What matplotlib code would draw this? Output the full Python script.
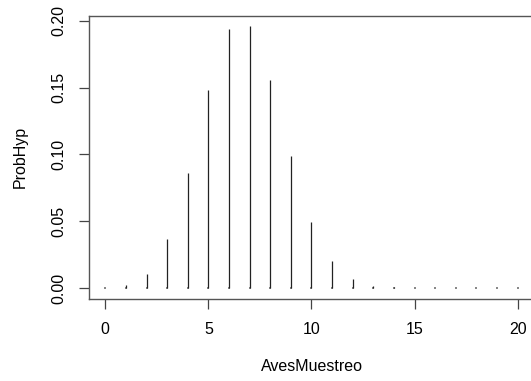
import matplotlib
matplotlib.use("Agg")
import matplotlib.pyplot as plt
import numpy as np

# valores (distribucion hipergeometrica)
aves_muestreo = np.arange(0, 21)
prob_hyp = [0.0003, 0.0022, 0.0107, 0.0366, 0.0860, 0.1480, 0.1936, 0.1960,
            0.1557, 0.0984, 0.0496, 0.0202, 0.0067, 0.0018, 0.0004, 0.0001,
            0.00002, 0.00001, 0.0, 0.0, 0.0]
x_ticks = [0, 5, 10, 15, 20]
y_ticks = [0.00, 0.05, 0.10, 0.15, 0.20]

plt.rcParams['font.family'] = ['Liberation Sans', 'DejaVu Sans']

fig = plt.figure(figsize=(5.31, 3.81), dpi=100)
ax = fig.add_axes([88.8 / 531, (381 - 298.5) / 381, 445.4 / 531, 282.9 / 381])

# tipo "h": barras verticales
ax.vlines(aves_muestreo, 0, prob_hyp, colors='#222222', linewidth=0.9)
# los valores casi nulos se ven como un punto en la base
ax.scatter(aves_muestreo, np.zeros(len(aves_muestreo)), s=0.6, marker='s',
           color='#888888', linewidths=0)

ax.set_xlim(-0.8, 20.8)
ax.set_ylim(-0.00784, 0.2038)
ax.set_xticks(x_ticks)
ax.set_xticklabels([str(v) for v in x_ticks])
ax.set_yticks(y_ticks)
ax.set_yticklabels(["%.2f" % v for v in y_ticks], rotation=90, va='center')

ax.tick_params(direction='out', length=7, width=0.9, color='#444444',
               labelsize=11.5, pad=10)
ax.tick_params(axis='y', pad=9)
for s in ax.spines.values():
    s.set_color('#555555')
    s.set_linewidth(1.0)

ax.set_xlabel('AvesMuestreo', fontsize=11.5, labelpad=16)
ax.set_ylabel('ProbHyp', fontsize=11.5, labelpad=17)

fig.savefig('out.png', dpi=100)
